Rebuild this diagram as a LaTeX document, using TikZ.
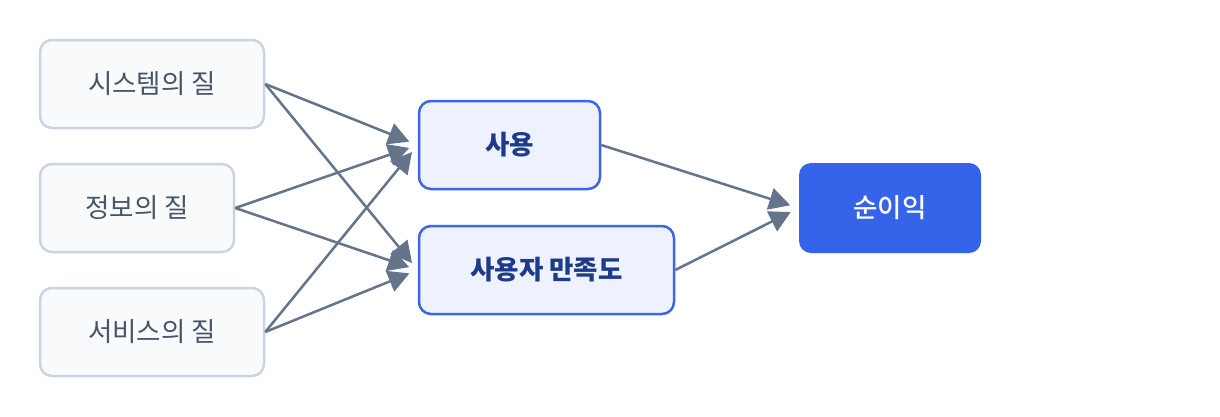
\documentclass[tikz,border=0pt]{standalone}
\usepackage{fontspec}
\setmainfont{Noto Sans CJK KR}
\newfontfamily\krmedium{Noto Sans CJK KR Medium}
\usetikzlibrary{arrows.meta}
\definecolor{qfill}{HTML}{F8FAFC}
\definecolor{qline}{HTML}{CBD5E1}
\definecolor{qtext}{HTML}{475569}
\definecolor{mfill}{HTML}{EEF2FE}
\definecolor{mline}{HTML}{3B66E8}
\definecolor{mtext}{HTML}{1E3A8A}
\definecolor{nfill}{HTML}{3563E9}
\definecolor{link}{HTML}{64748B}

\begin{document}
\begin{tikzpicture}[x=1pt, y=-1pt,
  quality/.style={draw=qline, fill=qfill, text=qtext, line width=2.5pt, rounded corners=12pt,
    minimum height=88pt, font=\fontsize{26.5}{30}\selectfont},
  middle/.style={draw=mline, fill=mfill, text=mtext, line width=2.5pt, rounded corners=12pt,
    minimum height=88pt, font=\fontsize{26.5}{30}\selectfont\bfseries},
  result/.style={fill=nfill, text=white, rounded corners=12pt,
    minimum height=90pt, minimum width=182pt, font=\fontsize{26.5}{30}\selectfont\krmedium},
  link/.style={draw=link, line width=2.5pt, shorten >=9pt,
    -{Triangle[length=21pt,width=22pt]}}]
\useasboundingbox (0,0) rectangle (1220,416);
% left column
\node[quality, minimum width=224pt] (sys) at (152,84) {시스템의 질};
\node[quality, minimum width=194pt] (info) at (137,208) {정보의 질};
\node[quality, minimum width=224pt] (serv) at (152,332) {서비스의 질};
% middle
\node[middle, minimum width=181pt] (use) at (509.5,145) {사용};
\node[middle, minimum width=255pt] (sat) at (546.5,270) {사용자 만족도};
% right
\node[result] (net) at (890,208) {순이익};
%
\foreach \s in {sys,info,serv}{
  \draw[link] (\s.east) -- (use.west);
  \draw[link] (\s.east) -- (sat.west);
}
\draw[link] (use.east) -- (net.west);
\draw[link] (sat.east) -- (net.west);
\end{tikzpicture}
\end{document}
